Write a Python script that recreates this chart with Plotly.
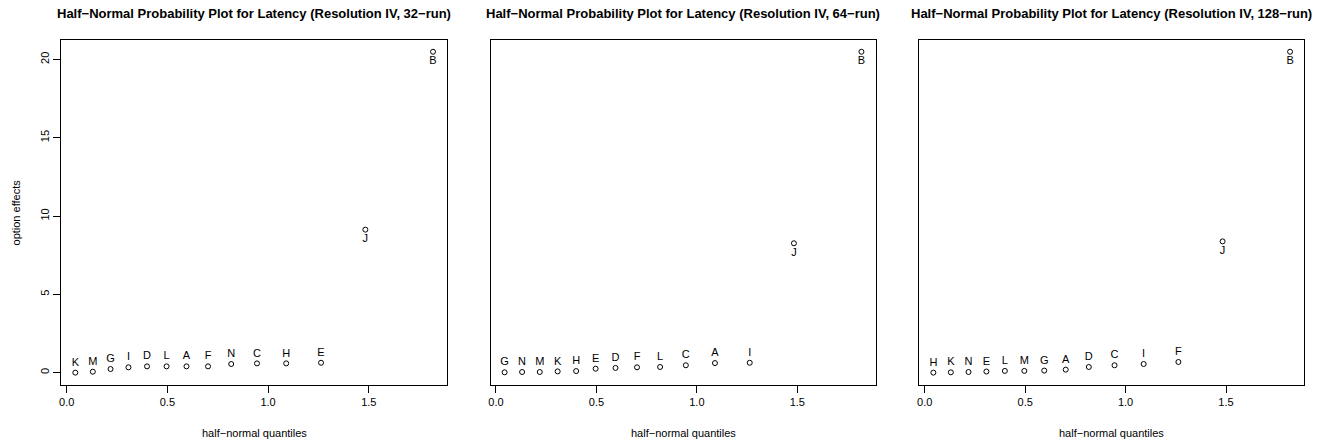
import plotly.graph_objects as go

# half-normal quantiles (shared by all three designs, 14 effects)
quantiles = [0.043, 0.130, 0.218, 0.307, 0.399, 0.496, 0.595, 0.702,
             0.817, 0.945, 1.090, 1.263, 1.483, 1.819]

labels_32 = ["K", "M", "G", "I", "D", "L", "A", "F", "N", "C", "H", "E", "J", "B"]
effects_32 = [0.00, 0.06, 0.23, 0.34, 0.40, 0.40, 0.40, 0.40, 0.55, 0.59, 0.59, 0.63, 9.13, 20.49]

labels_64 = ["G", "N", "M", "K", "H", "E", "D", "F", "L", "C", "A", "I", "J", "B"]
effects_64 = [0.02, 0.04, 0.04, 0.08, 0.10, 0.25, 0.30, 0.34, 0.36, 0.47, 0.61, 0.63, 8.26, 20.49]

labels_128 = ["H", "K", "N", "E", "L", "M", "G", "A", "D", "C", "I", "F", "J", "B"]
effects_128 = [0.00, 0.02, 0.04, 0.07, 0.11, 0.11, 0.13, 0.19, 0.36, 0.47, 0.55, 0.68, 8.38, 20.49]

titles = [
    "Half−Normal Probability Plot for Latency (Resolution IV, 32−run)",
    "Half−Normal Probability Plot for Latency (Resolution IV, 64−run)",
    "Half−Normal Probability Plot for Latency (Resolution IV, 128−run)",
]

x_ticks = [0.0, 0.5, 1.0, 1.5]
x_ticktext = ["0.0", "0.5", "1.0", "1.5"]
y_ticks = [0, 5, 10, 15, 20]

W, H = 1324, 443
FONT = "Liberation Sans, Arial, Helvetica, sans-serif"

# panel boxes in pixels (left, right); top/bottom shared
boxes = [(59.3, 446.0), (489.3, 875.0), (918.7, 1304.3)]
box_top, box_bottom = 40.0, 385.0
ydom = [1 - box_bottom / H, 1 - box_top / H]

fig = go.Figure()
panels = [(labels_32, effects_32), (labels_64, effects_64), (labels_128, effects_128)]

for i, (labs, vals) in enumerate(panels):
    sfx = "" if i == 0 else str(i + 1)
    n = len(vals)
    positions = ["top center"] * (n - 2) + ["bottom center"] * 2
    fig.add_trace(go.Scatter(
        x=quantiles, y=vals, text=labs, mode="markers+text",
        textposition=positions,
        textfont=dict(family=FONT, size=11, color="black"),
        marker=dict(symbol="circle-open", size=5, color="black", line=dict(width=1)),
        xaxis="x" + sfx, yaxis="y" + sfx, showlegend=False, hoverinfo="skip",
        cliponaxis=False,
    ))

    left, right = boxes[i]
    xa = dict(
        domain=[left / W, right / W], range=[-0.027, 1.89],
        showline=True, mirror=True, linecolor="black", linewidth=1,
        showgrid=False, zeroline=False,
        tickmode="array", tickvals=x_ticks, ticktext=x_ticktext,
        ticks="outside", ticklen=7, tickcolor="black",
        tickfont=dict(family=FONT, size=11, color="black"),
        anchor="y" + sfx,
    )
    ya = dict(
        domain=ydom, range=[-0.79, 21.24],
        showline=True, mirror=True, linecolor="black", linewidth=1,
        showgrid=False, zeroline=False,
        anchor="x" + sfx,
    )
    if i == 0:
        ya.update(tickmode="array", tickvals=y_ticks, ticks="outside", ticklen=7,
                  tickcolor="black", tickangle=-90,
                  tickfont=dict(family=FONT, size=11, color="black"))
    else:
        ya.update(showticklabels=False, ticks="")
    fig.layout["xaxis" + sfx] = xa
    fig.layout["yaxis" + sfx] = ya

    cx = (left + right) / 2 / W
    fig.add_annotation(text="<b>" + titles[i] + "</b>", x=cx, y=1 - 13 / H,
                       xref="paper", yref="paper", showarrow=False,
                       xanchor="center", yanchor="middle",
                       font=dict(family=FONT, size=13, color="black"))
    fig.add_annotation(text="half−normal quantiles", x=cx, y=1 - 433 / H,
                       xref="paper", yref="paper", showarrow=False,
                       xanchor="center", yanchor="middle",
                       font=dict(family=FONT, size=11, color="black"))

fig.add_annotation(text="option effects", x=14 / W, y=(ydom[0] + ydom[1]) / 2,
                   xref="paper", yref="paper", showarrow=False, textangle=-90,
                   xanchor="center", yanchor="middle",
                   font=dict(family=FONT, size=11, color="black"))

fig.update_layout(
    width=W, height=H,
    margin=dict(l=0, r=0, t=0, b=0),
    paper_bgcolor="white", plot_bgcolor="white",
)

# drop the browser's default page margin so the figure sits at the top-left corner
fig.write_html("out.html", config={"displayModeBar": False},
               post_script="document.body.style.margin='0';")
